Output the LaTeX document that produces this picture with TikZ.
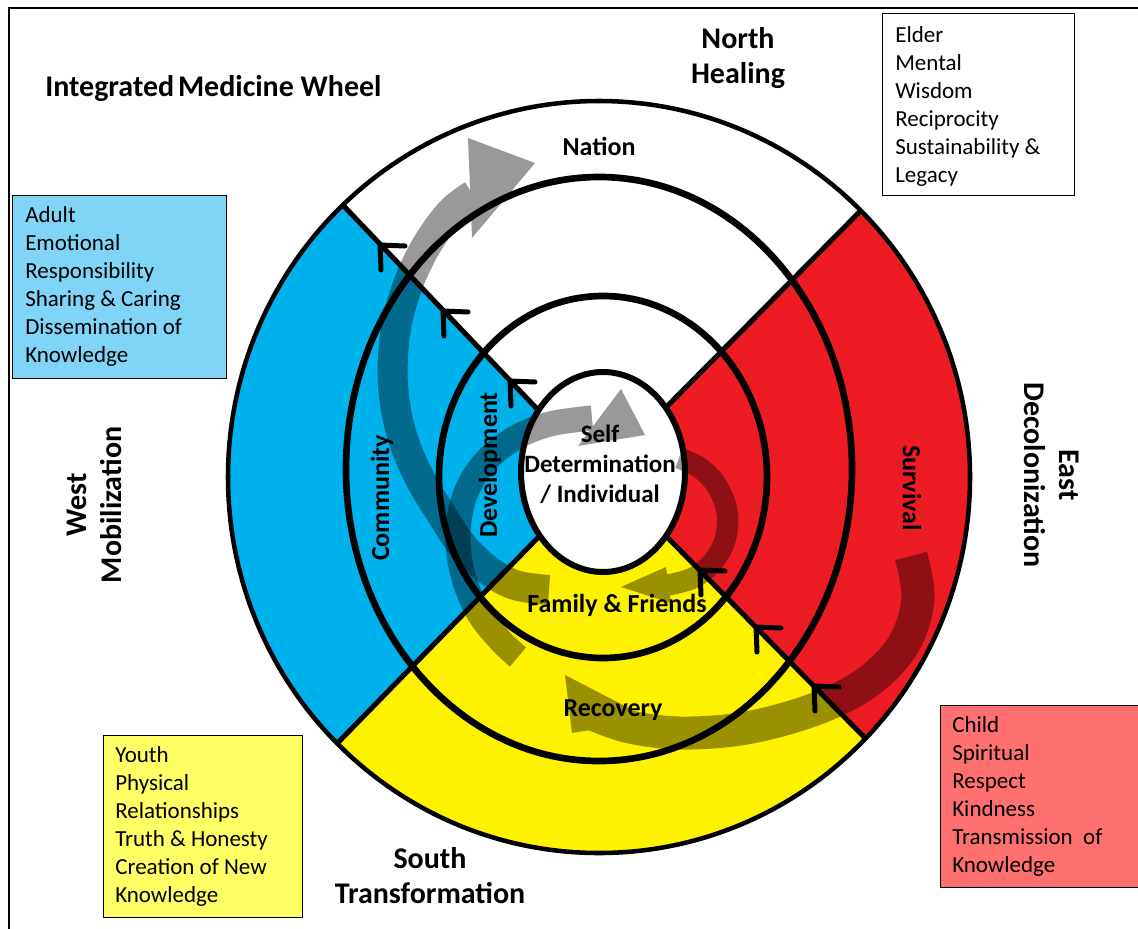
\documentclass[tikz,border=0pt]{standalone}
\usepackage{fontspec}
\setmainfont{Carlito}
\definecolor{wblue}{RGB}{0,178,236}
\definecolor{ered}{RGB}{237,28,36}
\definecolor{syellow}{RGB}{255,242,0}
\definecolor{boxblue}{RGB}{128,212,245}
\definecolor{boxyellow}{RGB}{255,255,102}
\definecolor{boxred}{RGB}{255,112,112}
\begin{document}
\begin{tikzpicture}[x=0.75pt,y=-0.75pt,
  band/.style={draw=black,line cap=butt,line join=round},
  chev/.style={line width=3.75pt,line cap=round,line join=round},
  divider/.style={line width=3.75pt},
  infobox/.style={draw=black,line width=1.1pt,anchor=north west,inner sep=0pt},
  boxtext/.style={font=\fontsize{17.25pt}{21pt}\selectfont,align=left,inner sep=0pt,anchor=north west},
  compass/.style={font=\fontsize{22.5pt}{26.25pt}\selectfont\bfseries,align=center,inner sep=0pt},
  ringlbl/.style={font=\fontsize{19.5pt}{23pt}\selectfont\bfseries,inner sep=0pt}]
\useasboundingbox (0,0) rectangle (1138,928);
\fill[white] (0,0) rectangle (1138,928);
% frame
\draw[line width=1.5pt] (9,930) -- (9,7.5) -- (1140,7.5);

% centre points and far ends of the four dividing lines
\coordinate (cnw) at (600,475);
\coordinate (fnw) at (200,55);
\coordinate (cne) at (600,474);
\coordinate (fne) at (1000,70);
\coordinate (csw) at (600,474);
\coordinate (fsw) at (200,884);
\coordinate (cse) at (600,469);
\coordinate (fse) at (1000,875);

% sectors
\begin{scope}
  \clip (599,477) ellipse [x radius=278.25pt, y radius=282pt];
  \fill[white] (200,80) rectangle (1000,880);
  \fill[wblue] (600,474) -- (fnw) -- (fsw) -- cycle;
  \fill[ered] (600,472) -- (fne) -- (fse) -- cycle;
  \fill[syellow] (600,472) -- (fsw) -- (200,1000) -- (1000,1000) -- (fse) -- cycle;
  \draw[divider] (cnw) -- (fnw);
  \draw[divider] (cne) -- (fne);
  \draw[divider] (csw) -- (fsw);
  \draw[divider] (cse) -- (fse);
\end{scope}
% rings
\draw[line width=3.4pt] (599,477) ellipse [x radius=278.25pt, y radius=282pt];
\draw[line width=5pt] (599,469) ellipse [x radius=189.75pt, y radius=219pt];
\draw[line width=5pt] (603,477) ellipse [x radius=123pt, y radius=135.75pt];
\filldraw[fill=white,line width=4.5pt] (603,472) ellipse [x radius=61.5pt, y radius=75pt];

% translucent flow arrows
\begin{scope}[transparency group, opacity=0.4]
  \draw[band,line width=22.5pt] plot[smooth,tension=0.6] coordinates {(549,590) (515,585) (488,570) (462,545) (440,512) (418,475) (401,432) (393,385) (395,335) (406,290) (425,248) (450,213) (473,195)};
  \fill (468,138) -- (535,163) -- (472,238) -- cycle;
\end{scope}
\begin{scope}[transparency group, opacity=0.4]
  \draw[band,line width=18.75pt] plot[smooth,tension=0.6] coordinates {(518,657) (500,640) (478,612) (463,575) (458,535) (465,495) (485,462) (515,438) (550,424) (592,418)};
  \fill (621,389) -- (645,435) -- (578,446) -- cycle;
\end{scope}
\begin{scope}[transparency group, opacity=0.4]
  \draw[band,line width=16pt] plot[smooth,tension=0.6] coordinates {(679,458) (700,468) (717,486) (727,512) (725,540) (712,563) (693,578) (668,585)};
  \fill (666,567) -- (671,603) -- (621,587) -- cycle;
\end{scope}
\begin{scope}[transparency group, opacity=0.4]
  \draw[band,line width=24.75pt] plot[smooth,tension=0.6] coordinates {(911,556) (918,598) (906,640) (880,672) (845,696) (798,715) (740,729) (680,733) (630,727) (595,715)};
  \fill (565,675) -- (572,733) -- (652,720) -- cycle;
\end{scope}

% chevrons on the dividing lines (tips on the lines)
\foreach \tx/\ty in {380/245, 443/311, 510/381, 700/570, 756/627, 814/686}
  \draw[chev] (\tx+25,\ty+1) -- (\tx,\ty) -- (\tx+1,\ty+25);

% ring labels
\node[ringlbl,anchor=base] (nation) at (599,155) {Nation};
\node[ringlbl,anchor=base] (family) at (617,612) {Family \& Friends};
\node[ringlbl,anchor=base] (recovery) at (613,716) {Recovery};
\node[ringlbl,rotate=90] (community) at (382,498) {Community};
\node[ringlbl,rotate=90] (development) at (490,465) {Development};
\node[ringlbl,rotate=-90] (survival) at (912,488) {Survival};
\node[font=\fontsize{18.75pt}{22.5pt}\selectfont\bfseries,align=center,inner sep=0pt] (self) at (600,464) {Self\\Determination\\/ Individual};

% headings
\node[font=\fontsize{22.5pt}{26pt}\selectfont\bfseries,anchor=base west,inner sep=0pt] (title) at (45,96) {Integrated\hspace{-0.1em} Medicine Wheel};
\node[compass] (north) at (738,58) {North\\Healing};
\node[compass] (south) at (430,876) {South\\Transformation};
\node[compass,rotate=90] (west) at (94,505) {West\\Mobilization};
\node[compass,rotate=-90] (east) at (1052,475) {East\\Decolonization};

% info boxes
\node[infobox,fill=white,minimum width=144pt,minimum height=136.5pt] (nbox) at (882,13) {};
\node[boxtext] (ntext) at (895,26.5) {Elder\\Mental\\Wisdom\\Reciprocity\\Sustainability \&\\Legacy};
\node[infobox,fill=boxblue,minimum width=160.5pt,minimum height=137.25pt] (wbox) at (12,195) {};
\node[boxtext] (wtext) at (25,206.5) {Adult\\Emotional\\Responsibility\\Sharing \& Caring\\Dissemination of\\Knowledge};
\node[infobox,fill=boxyellow,minimum width=149.25pt,minimum height=136.5pt] (sbox) at (103,735) {};
\node[boxtext] (stext) at (115,746.5) {Youth\\Physical\\Relationships\\Truth \& Honesty\\Creation of New\\Knowledge};
\node[infobox,fill=boxred,minimum width=160pt,minimum height=136.5pt] (ebox) at (940,705) {};
\node[boxtext] (etext) at (952,716.5) {Child\\Spiritual\\Respect\\Kindness\\Transmission\ \ of\\Knowledge};
\end{tikzpicture}
\end{document}
